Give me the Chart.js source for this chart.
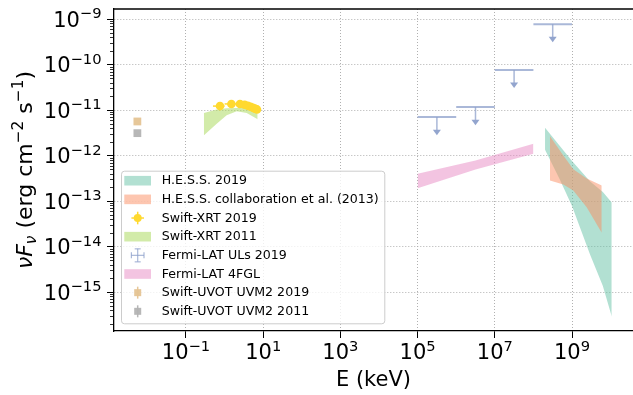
<!DOCTYPE html>
<html>
<head>
<meta charset="utf-8">
<script src="https://cdn.jsdelivr.net/npm/chart.js@4/dist/chart.umd.min.js"></script>
<style>
  html, body { margin: 0; padding: 0; background: #fff; overflow: hidden; }
</style>
</head>
<body>
<canvas id="sed" width="633" height="395"></canvas>
<script>
// energies in keV, fluxes in erg cm^-2 s^-1

// H.E.S.S. 2019 butterfly
const hess19E  = [2.0e8, 4.9e8, 1.0e9, 2.95e9, 6.3e9, 1.07e10];
const hess19Lo = [1.33e-12, 2.9e-13, 7.8e-14, 6.6e-15, 1.35e-15, 2.9e-16];
const hess19Hi = [4.1e-12, 1.6e-12, 7.6e-13, 2.7e-13, 1.58e-13, 9.3e-14];

// H.E.S.S. collaboration et al. (2013) butterfly
const hess13E  = [2.69e8, 5.96e8, 1.08e9, 2.4e9, 5.89e9];
const hess13Lo = [2.82e-13, 2.31e-13, 1.7e-13, 7.3e-14, 2.0e-14];
const hess13Hi = [2.65e-12, 1.0e-12, 5.0e-13, 3.13e-13, 2.19e-13];

// Swift-XRT 2011 band
const xrt11E  = [0.292, 0.624, 1.13, 2.06, 3.74, 7.19];
const xrt11Lo = [2.78e-12, 5.0e-12, 7.66e-12, 9.35e-12, 8.6e-12, 6.25e-12];
const xrt11Hi = [8.6e-12, 1.02e-11, 1.09e-11, 1.11e-11, 1.11e-11, 9.8e-12];

// Fermi-LAT 4FGL band
const fglE  = [1e5, 3.16e6, 1e8];
const fglLo = [1.91e-13, 4.9e-13, 1.09e-12];
const fglHi = [3.96e-13, 7.76e-13, 1.81e-12];

// Swift-XRT 2019 points
const xrt19E    = [0.76, 1.5, 2.5, 3.3, 4.0, 4.7, 5.4, 6.1, 6.9];
const xrt19ELo  = [0.5, 1.0, 2.0, 3.0, 3.65, 4.35, 5.05, 5.75, 6.5];
const xrt19EHi  = [1.0, 2.0, 3.0, 3.65, 4.35, 5.05, 5.75, 6.5, 7.5];
const xrt19F    = [1.22e-11, 1.36e-11, 1.36e-11, 1.30e-11, 1.24e-11, 1.18e-11, 1.12e-11, 1.07e-11, 1.03e-11];
const xrt19FErr = [1.0e-12, 8e-13, 8e-13, 8e-13, 8e-13, 8e-13, 8e-13, 8e-13, 8e-13];

// Fermi-LAT upper limits 2019
const ulE   = [3.16e5, 3.16e6, 3.16e7, 3.16e8];
const ulELo = [1e5, 1e6, 1e7, 1e8];
const ulEHi = [1e6, 1e7, 1e8, 1e9];
const ulF   = [7.0e-12, 1.16e-11, 7.6e-11, 7.7e-10];

// Swift-UVOT UVM2
const uvotE   = [5.5e-3];
const uvot19F = [5.6e-12];
const uvot11F = [3.1e-12];

const xTicks = [1e-1, 1e1, 1e3, 1e5, 1e7, 1e9];
const yTicks = [1e-15, 1e-14, 1e-13, 1e-12, 1e-11, 1e-10, 1e-9];

const legendLabels = [
  'H.E.S.S. 2019',
  'H.E.S.S. collaboration et al. (2013)',
  'Swift-XRT 2019',
  'Swift-XRT 2011',
  'Fermi-LAT ULs 2019',
  'Fermi-LAT 4FGL',
  'Swift-UVOT UVM2 2019',
  'Swift-UVOT UVM2 2011'
];

const FONT = 'DejaVu Sans';
const teal = 'rgba(102,194,165,0.5)';
const orange = 'rgba(252,141,98,0.5)';
const lime = 'rgba(166,216,84,0.5)';
const pink = 'rgba(231,138,195,0.5)';
const yellow = '#ffd92f';
const blue = 'rgba(141,160,203,0.75)';
const tan = 'rgba(229,196,148,0.95)';
const grey = 'rgba(179,179,179,0.95)';

const pts = (xs, ys) => xs.map((x, i) => ({x: x, y: ys[i]}));

function band(label, xs, lo, hi, color, idx) {
  return [
    {label: label + ' lo', data: pts(xs, lo), borderWidth: 0, pointRadius: 0, fill: false, tension: 0},
    {label: label, data: pts(xs, hi), borderWidth: 0, pointRadius: 0, fill: idx, backgroundColor: color, tension: 0}
  ];
}

const datasets = [
  {label: 'Swift-XRT 2019', data: pts(xrt19E, xrt19F), showLine: false, pointRadius: 4.3,
   pointBackgroundColor: yellow, pointBorderWidth: 0},
  {label: 'Swift-UVOT UVM2 2019', data: pts(uvotE, uvot19F), showLine: false, pointStyle: 'rect',
   pointRadius: 5.5, pointBackgroundColor: tan, pointBorderWidth: 0},
  {label: 'Swift-UVOT UVM2 2011', data: pts(uvotE, uvot11F), showLine: false, pointStyle: 'rect',
   pointRadius: 5.5, pointBackgroundColor: grey, pointBorderWidth: 0},
  {label: 'Fermi-LAT ULs 2019', data: pts(ulE, ulF), showLine: false, pointRadius: 0},
  ...band('H.E.S.S. collaboration et al. (2013)', hess13E, hess13Lo, hess13Hi, orange, 4),
  ...band('H.E.S.S. 2019', hess19E, hess19Lo, hess19Hi, teal, 6),
  ...band('Swift-XRT 2011', xrt11E, xrt11Lo, xrt11Hi, lime, 8),
  ...band('Fermi-LAT 4FGL', fglE, fglLo, fglHi, pink, 10)
];

function line(ctx, x1, y1, x2, y2) {
  ctx.beginPath(); ctx.moveTo(x1, y1); ctx.lineTo(x2, y2); ctx.stroke();
}

// text pieces with their own font and vertical offset; align: 0 centre, 1 right
function richText(ctx, parts, x0, y, align) {
  let w = 0;
  parts.forEach(p => { ctx.font = p.f; w += ctx.measureText(p.t).width; });
  let x = x0 - w * (align === 1 ? 1 : 0.5);
  parts.forEach(p => {
    ctx.font = p.f;
    ctx.fillText(p.t, x, y + (p.dy || 0));
    x += ctx.measureText(p.t).width;
  });
}

const rg = s => s + 'px "' + FONT + '"';
const it = s => 'italic ' + s + 'px "' + FONT + '"';
const TICK = 21;
const powParts = v => [
  {t: '10', f: rg(TICK)},
  {t: String(Math.round(Math.log10(v))).replace('-', '\u2212'), f: rg(TICK * 0.7), dy: -8.5}
];

const extras = {
  id: 'extras',
  beforeDatasetsDraw(chart) {
    const ctx = chart.ctx, xs = chart.scales.x, ys = chart.scales.y;
    const a = chart.chartArea;
    ctx.save();
    ctx.beginPath(); ctx.rect(a.left, a.top, a.right - a.left, a.bottom - a.top); ctx.clip();
    // XRT 2019 error bars
    ctx.strokeStyle = yellow; ctx.lineWidth = 1.5;
    xrt19E.forEach((e, i) => {
      const y = ys.getPixelForValue(xrt19F[i]);
      line(ctx, xs.getPixelForValue(xrt19ELo[i]), y, xs.getPixelForValue(xrt19EHi[i]), y);
      const x = xs.getPixelForValue(e);
      line(ctx, x, ys.getPixelForValue(xrt19F[i] - xrt19FErr[i]), x, ys.getPixelForValue(xrt19F[i] + xrt19FErr[i]));
    });
    // Fermi ULs
    ctx.strokeStyle = blue; ctx.fillStyle = 'rgba(141,160,203,0.95)';
    ulE.forEach((e, i) => {
      const y = ys.getPixelForValue(ulF[i]);
      ctx.lineWidth = 2;
      line(ctx, xs.getPixelForValue(ulELo[i]), y, xs.getPixelForValue(ulEHi[i]), y);
      const x = xs.getPixelForValue(e);
      const tip = ys.getPixelForValue(ulF[i] * 0.4);
      ctx.lineWidth = 1.5;
      line(ctx, x, y, x, tip - 5);
      ctx.beginPath();
      ctx.moveTo(x - 4, tip - 5.5); ctx.lineTo(x + 4, tip - 5.5); ctx.lineTo(x, tip);
      ctx.closePath(); ctx.fill();
    });
    ctx.restore();
  },
  afterDraw(chart) {
    const ctx = chart.ctx, xs = chart.scales.x, ys = chart.scales.y;
    const a = chart.chartArea;
    ctx.save();
    // top spine
    ctx.strokeStyle = '#000'; ctx.lineWidth = 1.3;
    line(ctx, a.left, a.top, a.right, a.top);
    // minor ticks on y
    ctx.lineWidth = 0.8;
    for (let d = -16; d <= -9; d++) {
      for (let k = 2; k <= 9; k++) {
        const v = k * Math.pow(10, d);
        if (v < ys.min || v > ys.max) continue;
        const y = Math.round(ys.getPixelForValue(v)) + 0.5;
        line(ctx, a.left - 4, y, a.left, y);
      }
    }
    // tick labels
    ctx.fillStyle = '#000';
    ctx.textBaseline = 'alphabetic';
    ctx.textAlign = 'left';
    xs.ticks.forEach(t => richText(ctx, powParts(t.value), xs.getPixelForValue(t.value), 359));
    ys.ticks.forEach(t => richText(ctx, powParts(t.value), a.left - 12.5, ys.getPixelForValue(t.value) + 7.5, 1));
    // axis titles
    richText(ctx, [{t: 'E (keV)', f: rg(21)}], (a.left + a.right) / 2, 385.5);
    ctx.save();
    ctx.translate(32, (a.top + a.bottom) / 2);
    ctx.rotate(-Math.PI / 2);
    const F = 22;
    richText(ctx, [
      {t: '\u03BD', f: it(F)}, {t: 'F', f: it(F)}, {t: '\u03BD', f: it(F * 0.7), dy: 4},
      {t: ' (erg cm', f: rg(F)}, {t: '\u22122', f: rg(F * 0.7), dy: -9},
      {t: ' s', f: rg(F)}, {t: '\u22121', f: rg(F * 0.7), dy: -9}, {t: ')', f: rg(F)}
    ], 0, 0);
    ctx.restore();

    // legend
    const bx = 121, by = 170.7, bw = 263.3, bh = 152.6;
    ctx.fillStyle = 'rgba(255,255,255,0.8)';
    ctx.strokeStyle = '#cccccc'; ctx.lineWidth = 1;
    ctx.beginPath();
    ctx.roundRect(bx + 0.5, by + 0.5, bw, bh, 3);
    ctx.fill(); ctx.stroke();
    const kinds = ['patch', 'patch', 'xrt', 'patch', 'ul', 'patch', 'uvot', 'uvot'];
    const cols = [teal, orange, yellow, lime, blue, pink, tan, grey];
    ctx.font = rg(12.6);
    ctx.textBaseline = 'middle';
    legendLabels.forEach((lab, i) => {
      const y = 180.7 + i * 18.66;
      const mx = 137.7;
      if (kinds[i] === 'patch') {
        ctx.fillStyle = cols[i];
        ctx.fillRect(124.3, y - 4.8, 26.7, 9.6);
      } else if (kinds[i] === 'xrt') {
        ctx.strokeStyle = yellow; ctx.lineWidth = 1.5;
        line(ctx, mx - 6.3, y, mx + 6.3, y);
        line(ctx, mx, y - 6.3, mx, y + 6.3);
        ctx.fillStyle = yellow;
        ctx.beginPath(); ctx.arc(mx, y, 4, 0, Math.PI * 2); ctx.fill();
      } else if (kinds[i] === 'ul') {
        ctx.strokeStyle = blue; ctx.lineWidth = 1.2;
        line(ctx, mx - 6.3, y, mx + 6.3, y);
        line(ctx, mx, y - 6.5, mx, y + 6.5);
        line(ctx, mx - 6.3, y - 3, mx - 6.3, y + 3);
        line(ctx, mx + 6.3, y - 3, mx + 6.3, y + 3);
        line(ctx, mx - 3, y - 6.5, mx + 3, y - 6.5);
        line(ctx, mx - 3, y + 6.5, mx + 3, y + 6.5);
      } else {
        ctx.strokeStyle = cols[i]; ctx.lineWidth = 1.5;
        line(ctx, mx, y - 6, mx, y + 6);
        ctx.fillStyle = cols[i];
        ctx.fillRect(mx - 3.5, y - 3.5, 7, 7);
      }
      ctx.fillStyle = '#000';
      ctx.fillText(lab, 161.7, y + 0.5);
    });
    ctx.restore();
  }
};

new Chart(document.getElementById('sed'), {
  type: 'line',
  data: {datasets: datasets},
  options: {
    responsive: false,
    animation: false,
    devicePixelRatio: 1,
    layout: {autoPadding: false, padding: {top: 9, left: 0, right: 0, bottom: 0}},
    plugins: {legend: {display: false}, tooltip: {enabled: false}},
    scales: {
      x: {
        type: 'logarithmic',
        position: 'bottom',
        min: Math.pow(10, -2.865),
        max: Math.pow(10, 10.58),
        afterBuildTicks: s => { s.ticks = xTicks.map(v => ({value: v})); },
        afterFit: s => { s.height = 64; s.paddingLeft = 0; s.paddingRight = 0; },
        ticks: {callback: () => '', padding: 0, maxRotation: 0, autoSkip: false},
        grid: {color: '#b0b0b0', lineWidth: 1, tickColor: '#000', tickLength: 7, tickWidth: 1},
        border: {color: '#000', width: 1.3, dash: [1, 2]}
      },
      y: {
        type: 'logarithmic',
        min: Math.pow(10, -15.857),
        max: Math.pow(10, -8.78),
        afterBuildTicks: s => { s.ticks = yTicks.map(v => ({value: v})); },
        afterFit: s => { s.width = 114; s.paddingTop = 0; s.paddingBottom = 0; },
        ticks: {callback: () => '', padding: 0, autoSkip: false},
        grid: {color: '#b0b0b0', lineWidth: 1, tickColor: '#000', tickLength: 7, tickWidth: 1},
        border: {color: '#000', width: 1.3, dash: [1, 2]}
      }
    }
  },
  plugins: [extras]
});
</script>
</body>
</html>
